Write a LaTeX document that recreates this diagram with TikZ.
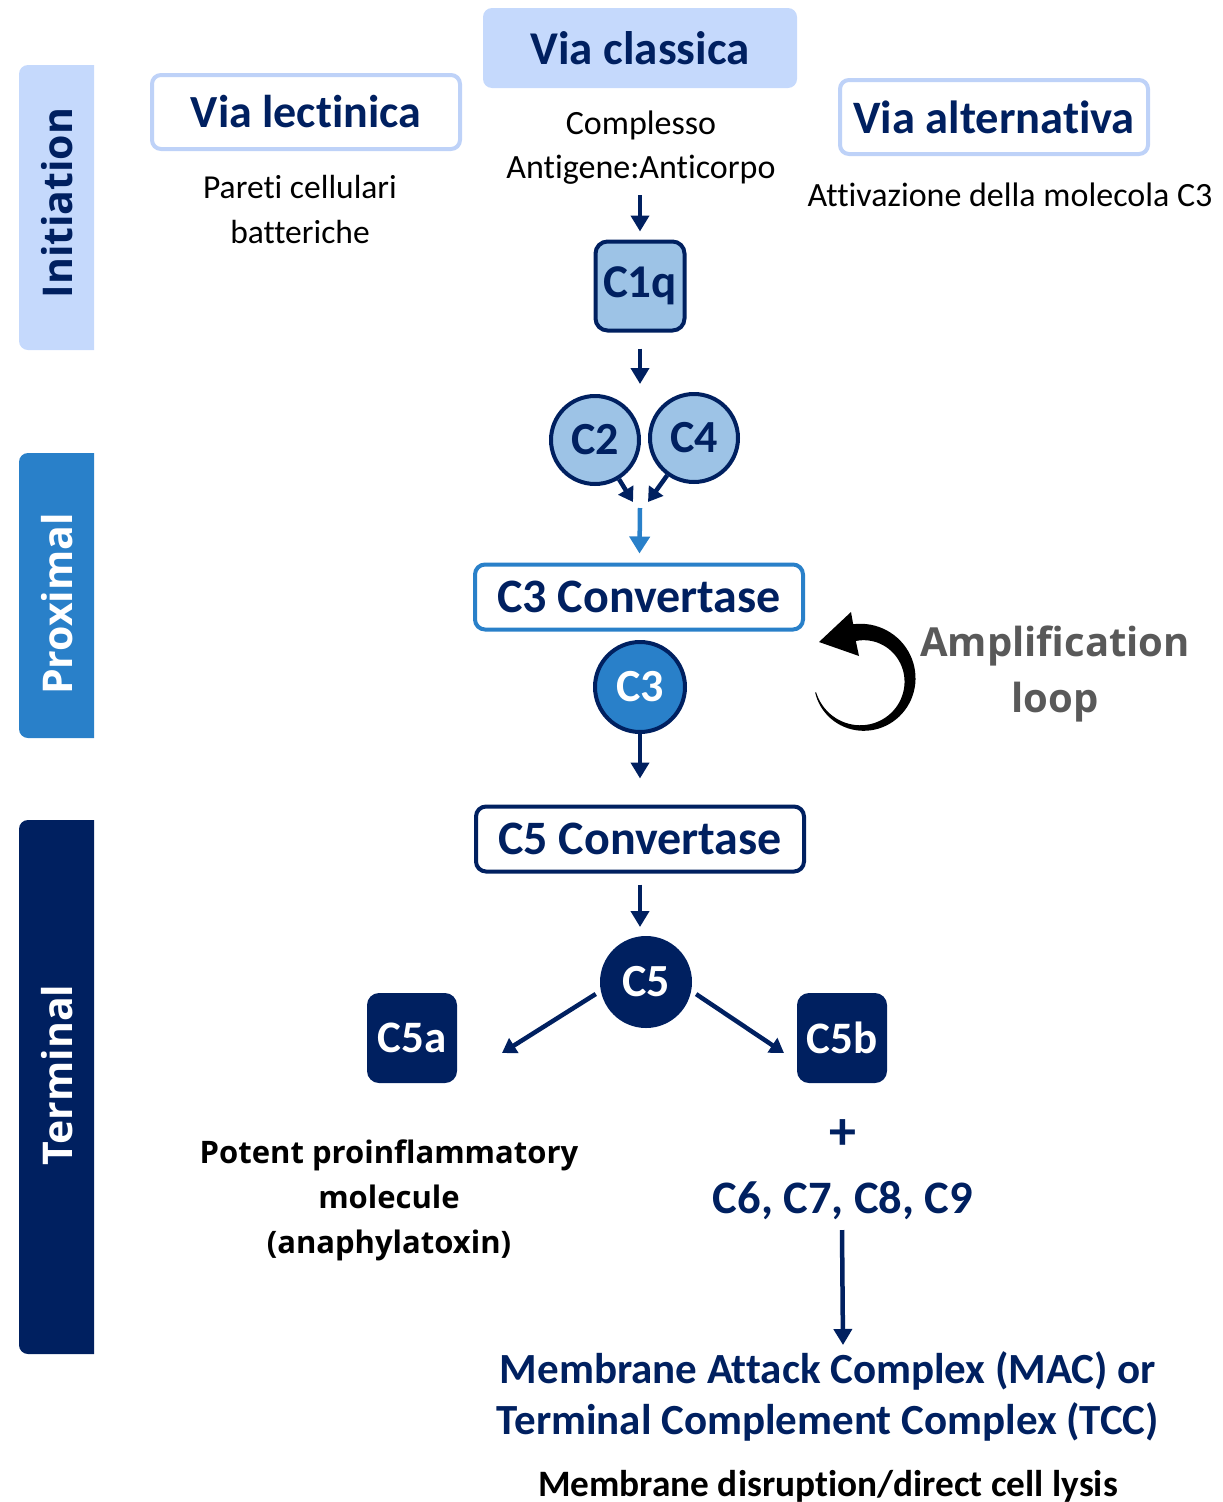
\documentclass[tikz,border=0pt]{standalone}
\usepackage{fontspec}
\setmainfont{Carlito}[Ligatures=NoCommon]
\newfontfamily\osans{Open Sans}
\usetikzlibrary{arrows.meta}
\definecolor{navy}{RGB}{0,32,96}
\definecolor{lightbg}{RGB}{197,217,252}
\definecolor{lightborder}{RGB}{190,210,248}
\definecolor{midblue}{RGB}{41,128,201}
\definecolor{paleblue}{RGB}{157,195,230}
\definecolor{greytext}{RGB}{89,89,89}
\newcommand\myfs[2]{\fontsize{#1}{#2}\selectfont}
\tikzset{
  arr/.style={draw=navy, line width=4.5pt, -{Triangle[width=18pt,length=16pt]}},
  arrsm/.style={draw=navy, line width=4.5pt, -{Triangle[width=17pt,length=14pt]}},
  arrlb/.style={draw=midblue, line width=4.5pt, -{Triangle[width=20pt,length=17pt]}},
  sidetxt/.style={rotate=90, font=\osans\bfseries\myfs{41}{48}, inner sep=0pt},
  titlebox/.style={rounded corners=9pt, text=navy, inner sep=0pt},
  convbox/.style={rounded corners=10pt, line width=4pt, fill=white, minimum width=328pt, minimum height=65pt, font=\bfseries\myfs{48}{54}, text=navy, inner sep=0pt},
  ball/.style={circle, line width=4pt, draw=navy, minimum size=88pt, inner sep=0pt, font=\bfseries\myfs{46}{54}},
  sq/.style={rounded corners=12pt, minimum size=90pt, inner sep=0pt, font=\bfseries\myfs{45}{54}},
  plain/.style={inner sep=0pt, align=center}
}
\begin{document}
\begin{tikzpicture}[x=1pt,y=-1pt]
\useasboundingbox (0,0) rectangle (1223,1502);

% side bars
\fill[lightbg] (94,65) [rounded corners=9pt] -- (19,65) -- (19,350) [sharp corners] -- (94,350) -- cycle;
\fill[midblue] (94,453) [rounded corners=9pt] -- (19,453) -- (19,738) [sharp corners] -- (94,738) -- cycle;
\fill[navy] (94,820) [rounded corners=9pt] -- (19,820) -- (19,1354) [sharp corners] -- (94,1354) -- cycle;
\node[sidetxt, text=navy] (init) at (57,203) {Initiation};
\node[sidetxt, text=white] (prox) at (57,604) {Proximal};
\node[sidetxt, text=white] (term) at (57,1075) {Terminal};

% top pathways
\node[titlebox, fill=lightbg, minimum width=314pt, minimum height=80pt, font=\bfseries\myfs{47}{54}] (classica) at (640,48) {Via classica};
\node[titlebox, draw=lightborder, line width=4pt, fill=white, minimum width=308pt, minimum height=74pt, font=\bfseries\myfs{46}{54}] (lectinica) at (306,112) {Via lectinica};
\node[titlebox, draw=lightborder, line width=4pt, fill=white, minimum width=308pt, minimum height=74pt, font=\bfseries\myfs{46.5}{54}] (alternativa) at (994,117) {Via alternativa};

\node[plain, font=\myfs{33.5}{45}] (pareti) at (300,209) {Pareti cellulari\\batteriche};
\node[plain, font=\myfs{34}{44}] (complesso) at (641,148) {Complesso\\Antigene:Anticorpo};
\node[plain, font=\myfs{34}{44}] (attiv) at (1010,195) {Attivazione della molecola C3};

% classical chain
\node[sq, draw=navy, line width=4pt, fill=paleblue, minimum size=89pt, text=navy, font=\bfseries\myfs{47}{54}] (c1q) at (640,286) {C1q};
\node[ball, fill=paleblue, text=navy] (c2) at (595,440) {C2};
\node[ball, fill=paleblue, text=navy] (c4) at (694,438) {C4};

\coordinate (k0) at (640,195);
\coordinate (k1) at (640,384);
\coordinate (m2) at (633,502);
\coordinate (m4) at (648,502);
\coordinate (m0) at (640,508);

\draw[arr, shorten >=8pt] (k0) -- (c1q);
\draw[arr, shorten <=16pt] (c1q) -- (k1);
\draw[arrsm] (c2) -- (m2);
\draw[arrsm] (c4) -- (m4);

\node[convbox, draw=midblue] (c3conv) at (639,597) {C3 Convertase};
\draw[arrlb, shorten >=9pt] (m0) -- (c3conv);

\node[ball, fill=midblue, text=white, minimum size=90pt] (c3) at (640,687) {C3};

% amplification loop
\fill[black] plot[domain=165:-99, samples=60]
   ({862+(48+(1+16*(165-\x)/264)/2)*cos(\x)}, {680+(48+(1+16*(165-\x)/264)/2)*sin(\x)})
   -- (851,612) -- (819,642) -- (859,656)
   -- plot[domain=-99:165, samples=60]
   ({862+(48-(1+16*(165-\x)/264)/2)*cos(\x)}, {680+(48-(1+16*(165-\x)/264)/2)*sin(\x)})
   -- cycle;
\node[plain, font=\osans\bfseries\myfs{40}{56}, text=greytext] (amp) at (1055,674) {Amplification\\loop};

\node[convbox, draw=navy] (c5conv) at (640,839) {C5 Convertase};
\draw[arr, shorten >=26pt] (c3) -- (c5conv);

\node[ball, fill=navy, text=white, minimum size=88pt] (c5) at (646,982) {C5};
\draw[arr, shorten <=11pt, shorten >=9pt] (c5conv) -- (c5conv.south |- c5.north);

\node[sq, fill=navy, text=white] (c5a) at (412,1038) {C5a};
\node[sq, fill=navy, text=white] (c5b) at (842,1038) {C5b};
\coordinate (c5al) at (502,1053);
\coordinate (c5br) at (784,1053);
\draw[arrsm, shorten <=6pt] (c5.191) -- (c5al);
\draw[arrsm, shorten <=6pt] (c5.-11) -- (c5br);

\node[plain, font=\osans\bfseries\myfs{31}{45}] (potent) at (389,1200) {Potent proinflammatory\\molecule\\(anaphylatoxin)};
\node[plain, font=\bfseries\myfs{54}{54}, text=navy] (plus) at (843,1135) {+};
\node[plain, font=\bfseries\myfs{46.5}{54}, text=navy] (c69) at (843,1201) {C6, C7, C8, C9};

\coordinate (k5) at (842,1230);
\coordinate (k6) at (843,1345);
\draw[arr] (k5) -- (k6);

\node[plain, font=\bfseries\myfs{43}{51}, text=navy] (mac) at (828,1396) {Membrane Attack Complex (MAC) or\\Terminal Complement Complex (TCC)};
\node[plain, font=\bfseries\myfs{37.3}{42}] (lysis) at (828,1486) {Membrane disruption/direct cell lysis};
\end{tikzpicture}
\end{document}
